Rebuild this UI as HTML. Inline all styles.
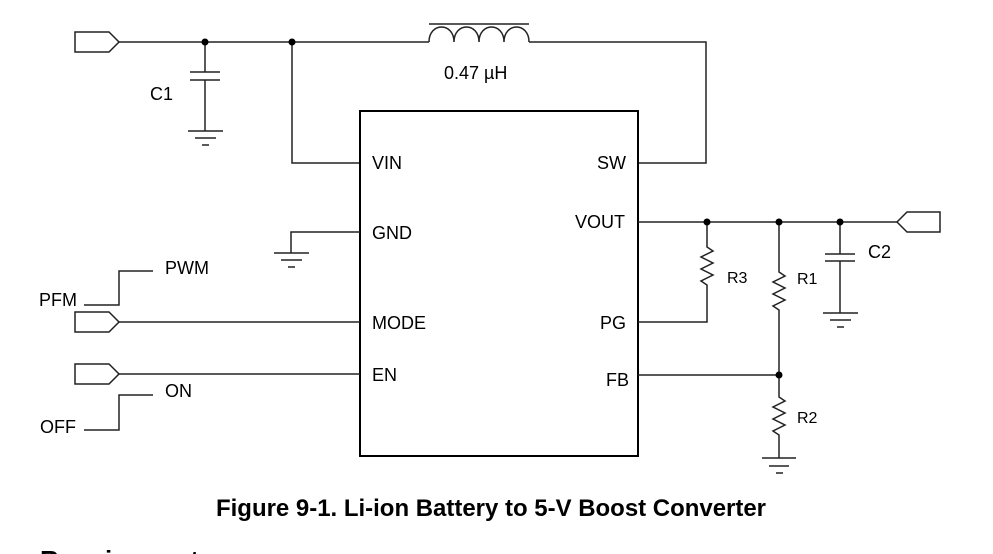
<!DOCTYPE html>
<html><head><meta charset="utf-8"><style>
html,body{margin:0;padding:0;background:#fff;width:993px;height:554px;overflow:hidden}
svg{display:block}
text{font-family:"Liberation Sans",sans-serif;fill:#000}
</style></head><body>
<svg width="993" height="554" viewBox="0 0 993 554" xmlns="http://www.w3.org/2000/svg">
<g stroke="#222" stroke-width="1.5" fill="none">
<polygon points="75,32 109,32 119,42 109,52 75,52"/>
<line x1="119" y1="42" x2="429" y2="42"/>
<line x1="205" y1="42" x2="205" y2="72"/>
<line x1="190" y1="72" x2="220" y2="72"/>
<line x1="190" y1="80" x2="220" y2="80"/>
<line x1="205" y1="80" x2="205" y2="131"/>
<line x1="188" y1="131" x2="223" y2="131"/>
<line x1="195" y1="138" x2="216" y2="138"/>
<line x1="202" y1="145" x2="209" y2="145"/>
<polyline points="292,42 292,163 360,163"/>
<line x1="429" y1="24" x2="529" y2="24"/>
<path d="M429,42 C429,22 454,22 454,42 C454,22 479,22 479,42 C479,22 504,22 504,42 C504,22 529,22 529,42"/>
<polyline points="529,42 706,42 706,163 638,163"/>
<rect x="360" y="111" width="278" height="345" stroke="#000" stroke-width="2"/>
<polyline points="360,232 291,232 291,253"/>
<line x1="274" y1="253" x2="309" y2="253"/>
<line x1="281" y1="260" x2="302" y2="260"/>
<line x1="288" y1="267" x2="295" y2="267"/>
<polygon points="75,312 109,312 119,322 109,332 75,332"/>
<line x1="119" y1="322" x2="360" y2="322"/>
<polygon points="75,364 109,364 119,374 109,384 75,384"/>
<line x1="119" y1="374" x2="360" y2="374"/>
<polyline points="84,305 119,305 119,271 153,271"/>
<polyline points="84,430 119,430 119,395 153,395"/>
<line x1="638" y1="222" x2="897" y2="222"/>
<polygon points="897,222 907,212 940,212 940,232 907,232"/>
<polyline points="707,222 707,247 713,251 701,257 713,263 701,269 713,275 701,281 707,285 707,322 638,322"/>
<polyline points="779,222 779,272 785,276 773,282 785,288 773,294 785,300 773,306 779,310 779,375"/>
<line x1="638" y1="375" x2="779" y2="375"/>
<polyline points="779,375 779,397 785,401 773,407 785,413 773,419 785,425 773,431 779,435 779,458"/>
<line x1="762" y1="458" x2="796" y2="458"/>
<line x1="769" y1="466" x2="789" y2="466"/>
<line x1="776" y1="473" x2="783" y2="473"/>
<line x1="840" y1="222" x2="840" y2="254"/>
<line x1="825" y1="254" x2="855" y2="254"/>
<line x1="825" y1="261" x2="855" y2="261"/>
<line x1="840" y1="261" x2="840" y2="313"/>
<line x1="823" y1="313" x2="858" y2="313"/>
<line x1="830" y1="320" x2="851" y2="320"/>
<line x1="837" y1="327" x2="844" y2="327"/>
</g>
<g fill="#000">
<circle cx="205" cy="42" r="3.5"/><circle cx="292" cy="42" r="3.5"/>
<circle cx="707" cy="222" r="3.5"/><circle cx="779" cy="222" r="3.5"/>
<circle cx="840" cy="222" r="3.5"/><circle cx="779" cy="375" r="3.5"/>
</g>
<g font-size="18">
<text x="150" y="100">C1</text>
<text x="444" y="79">0.47 µH</text>
<text x="372" y="169">VIN</text>
<text x="597" y="169">SW</text>
<text x="372" y="239">GND</text>
<text x="575" y="228">VOUT</text>
<text x="372" y="329">MODE</text>
<text x="600" y="329">PG</text>
<text x="372" y="381">EN</text>
<text x="606" y="386">FB</text>
<text x="165" y="274">PWM</text>
<text x="39" y="306">PFM</text>
<text x="165" y="397">ON</text>
<text x="40" y="433">OFF</text>
<text x="868" y="258">C2</text>
</g>
<g font-size="16">
<text x="727" y="283">R3</text>
<text x="797" y="284">R1</text>
<text x="797" y="423">R2</text>
</g>
<text x="491" y="516" font-size="24" font-weight="bold" text-anchor="middle" textLength="550" lengthAdjust="spacingAndGlyphs">Figure 9-1. Li-ion Battery to 5-V Boost Converter</text>
<text x="40" y="569" font-size="26" font-weight="bold">Requirements</text>
</svg>
</body></html>
